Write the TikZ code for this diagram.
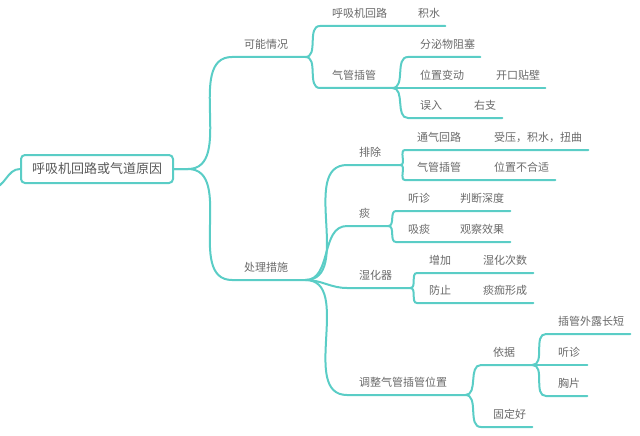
\documentclass[tikz,border=0pt]{standalone}
\usepackage{fontspec}
\setmainfont{Noto Sans CJK SC}
\definecolor{branchc}{RGB}{90,205,198}
\definecolor{txtc}{RGB}{105,105,105}

\tikzset{
  branch/.style={draw=branchc, line width=2pt, line cap=round},
  topic/.style={anchor=south west, inner xsep=0pt, inner ysep=7pt, text width=#1pt,
    align=left, text=txtc, font=\fontsize{11}{13}\selectfont,
    execute at begin node={\hspace*{12pt}}},
  rootbox/.style={draw=branchc, line width=2pt, rounded corners=4pt, fill=white,
    minimum width=152pt, minimum height=28pt, inner sep=0pt, text=txtc!85!black,
    font=\fontsize{13}{15}\selectfont}
}

\begin{document}
\begin{tikzpicture}[x=1pt,y=-1pt]
    \useasboundingbox (0,0) rectangle (640,436);
    % root
    \node[rootbox] (root) at (97,169) {呼吸机回路或气道原因};
    \coordinate (lft) at (-8,188);
    \coordinate (rt) at ([xshift=14pt]root.east);
    % level 1
    \node[topic=73] (kn) at (232,57) {可能情况};
    \node[topic=73] (cl) at (232,280) {处理措施};
    % 可能情况
    \node[topic=86] (hx) at (320,26) {呼吸机回路};
    \node[topic=39] (js) at (406,26) {积水};
    \node[topic=72] (qg) at (320,88) {气管插管};
    \node[topic=72] (fm) at (408,57) {分泌物阻塞};
    \node[topic=76] (wz) at (408,88) {位置变动};
    \node[topic=61] (kb) at (484,88) {开口贴壁};
    \node[topic=54] (wr) at (408,118) {误入};
    \node[topic=40] (yz) at (462,118) {右支};
    % 处理措施
    \node[topic=53] (pc) at (347,165) {排除};
    \node[topic=41] (ta) at (347,226) {痰};
    \node[topic=63] (sh) at (347,288) {湿化器};
    \node[topic=118] (tz) at (347,395) {调整气管插管位置};
    \node[topic=77] (tq) at (405,150) {通气回路};
    \node[topic=106] (sy) at (482,150) {受压，积水，扭曲};
    \node[topic=77] (qgb) at (405,180) {气管插管};
    \node[topic=73] (wb) at (482,180) {位置不合适};
    \node[topic=52] (tza) at (396,211) {听诊};
    \node[topic=62] (pd) at (448,211) {判断深度};
    \node[topic=52] (xt) at (396,242) {吸痰};
    \node[topic=62] (gc) at (448,242) {观察效果};
    \node[topic=54] (zj) at (417,273) {增加};
    \node[topic=62] (sc) at (471,273) {湿化次数};
    \node[topic=54] (fz) at (417,303) {防止};
    \node[topic=62] (tj) at (471,303) {痰痂形成};
    \node[topic=51] (yj) at (481,365) {依据};
    \node[topic=51] (gd) at (481,427) {固定好};
    \node[topic=84] (cg) at (546,334) {插管外露长短};
    \node[topic=41] (tzb) at (546,365) {听诊};
    \node[topic=41] (xp) at (546,396) {胸片};

    % branches
    \draw[branch] (root.west) to[out=180,in=0] (lft);
    \draw[branch] (root.east) -- (rt) to[out=0,in=180] (kn.south west) -- (kn.south east);
    \draw[branch] (root.east) -- (rt) to[out=0,in=180] (cl.south west) -- (cl.south east);

    \draw[branch] (kn.south east) to[out=0,in=180] (hx.south west) -- (hx.south east) -- (js.south east);
    \draw[branch] (kn.south east) to[out=0,in=180] (qg.south west) -- (qg.south east);
    \draw[branch] (qg.south east) to[out=0,in=180] (fm.south west) -- (fm.south east);
    \draw[branch] (qg.south east) -- (wz.south west) -- (wz.south east) -- (kb.south east);
    \draw[branch] (qg.south east) to[out=0,in=180] (wr.south west) -- (wr.south east) -- (yz.south east);

    \draw[branch] (cl.south east) to[out=0,in=180] (pc.south west) -- (pc.south east);
    \draw[branch] (cl.south east) to[out=0,in=180] (ta.south west) -- (ta.south east);
    \draw[branch] (cl.south east) to[out=0,in=180] (sh.south west) -- (sh.south east);
    \draw[branch] (cl.south east) to[out=0,in=180] (tz.south west) -- (tz.south east);

    \draw[branch] (pc.south east) to[out=0,in=180] (tq.south west) -- (tq.south east) -- (sy.south east);
    \draw[branch] (pc.south east) to[out=0,in=180] (qgb.south west) -- (qgb.south east) -- (wb.south east);
    \draw[branch] (ta.south east) to[out=0,in=180] (tza.south west) -- (tza.south east) -- (pd.south east);
    \draw[branch] (ta.south east) to[out=0,in=180] (xt.south west) -- (xt.south east) -- (gc.south east);
    \draw[branch] (sh.south east) to[out=0,in=180] (zj.south west) -- (zj.south east) -- (sc.south east);
    \draw[branch] (sh.south east) to[out=0,in=180] (fz.south west) -- (fz.south east) -- (tj.south east);

    \draw[branch] (tz.south east) to[out=0,in=180] (yj.south west) -- (yj.south east);
    \draw[branch] (tz.south east) to[out=0,in=180] (gd.south west) -- (gd.south east);
    \draw[branch] (yj.south east) to[out=0,in=180] (cg.south west) -- (cg.south east);
    \draw[branch] (yj.south east) -- (tzb.south west) -- (tzb.south east);
    \draw[branch] (yj.south east) to[out=0,in=180] (xp.south west) -- (xp.south east);
\end{tikzpicture}
\end{document}
